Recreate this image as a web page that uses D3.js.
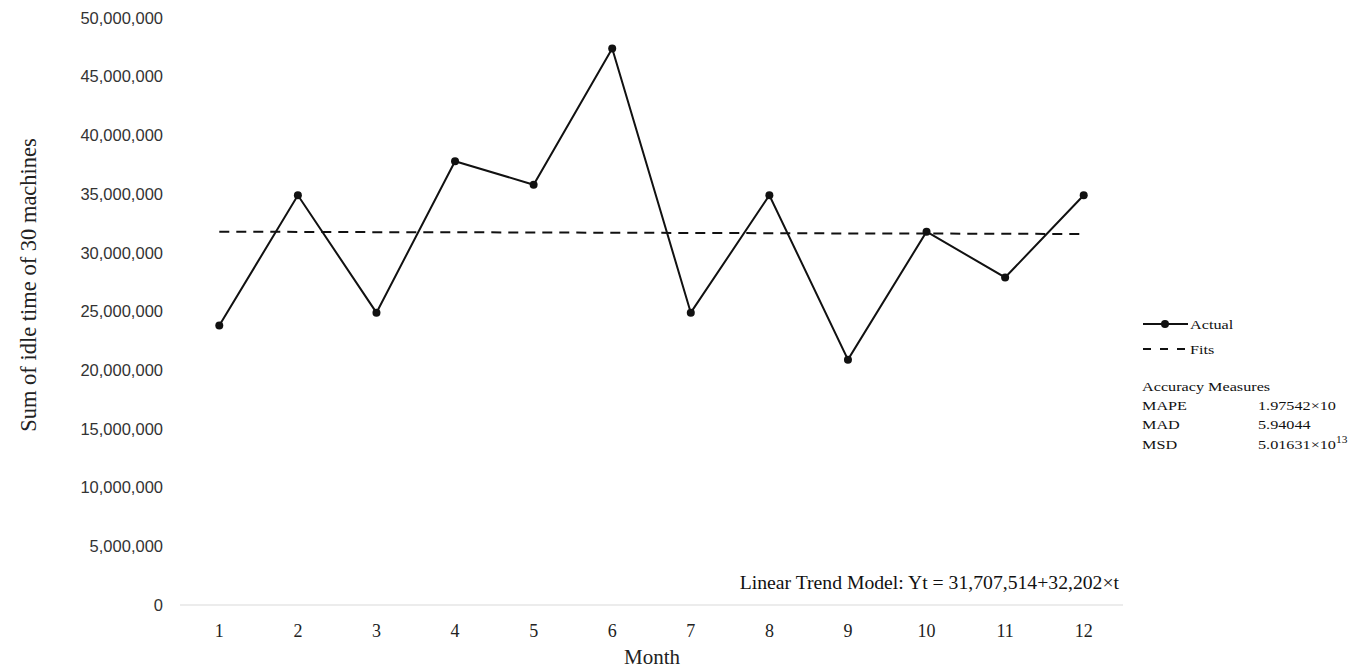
<!DOCTYPE html>
<html>
<head>
<meta charset="utf-8">
<script src="https://cdn.jsdelivr.net/npm/d3@7"></script>
<style>
body { margin: 0; background: #fff; }
svg { font-family: "Liberation Serif", "Times New Roman", serif; display: block; }
</style>
</head>
<body>
<svg class="myChart" width="1363" height="670"></svg>
<script>
const months = [1, 2, 3, 4, 5, 6, 7, 8, 9, 10, 11, 12];
const actual = [23800000, 34900000, 24900000, 37800000, 35800000, 47400000,
                24900000, 34900000, 20900000, 31800000, 27900000, 34900000];
const fits = [31800000, 31780000, 31760000, 31750000, 31730000, 31710000,
              31690000, 31670000, 31650000, 31640000, 31620000, 31600000];
const yTicks = [0, 5000000, 10000000, 15000000, 20000000, 25000000,
                30000000, 35000000, 40000000, 45000000, 50000000];
const accuracyNames = ["MAPE", "MAD", "MSD"];
const accuracyValues = [["1.97542", "×10", ""], ["5.94044", "", ""], ["5.01631", "×10", "13"]];

const svg = d3.select('svg.myChart');
const margin = {left: 180, right: 1123, top: 18, bottom: 605};

const xScale = d3.scaleBand()
  .domain(months)
  .range([margin.left, margin.right]);

const yScale = d3.scaleLinear()
  .domain([0, 50000000])
  .range([margin.bottom, margin.top]);

const xc = d => xScale(d) + xScale.bandwidth() / 2;
const fmt = d3.format(',');

// y tick labels (no axis line)
svg.append('g').selectAll('text').data(yTicks)
  .enter().append('text')
  .attr('x', 163)
  .attr('y', d => yScale(d))
  .attr('dy', '0.35em')
  .attr('text-anchor', 'end')
  .attr('font-family', '"Liberation Sans", Arial, sans-serif')
  .attr('font-size', '16.5px')
  .attr('fill', '#333')
  .text(d => fmt(d));

// x axis line
svg.append('line')
  .attr('x1', margin.left).attr('x2', margin.right)
  .attr('y1', yScale(0)).attr('y2', yScale(0))
  .attr('stroke', '#d9d9d9').attr('stroke-width', 1);

svg.append('g').selectAll('text').data(months)
  .enter().append('text')
  .attr('x', d => xc(d))
  .attr('y', 637)
  .attr('text-anchor', 'middle')
  .attr('font-size', '18px')
  .attr('fill', '#222')
  .text(d => d);

// titles
svg.append('text')
  .attr('transform', 'translate(36,285) rotate(-90)')
  .attr('text-anchor', 'middle')
  .attr('font-size', '22.5px')
  .attr('fill', '#222')
  .text('Sum of idle time of 30 machines');

svg.append('text')
  .attr('x', 652).attr('y', 664)
  .attr('text-anchor', 'middle')
  .attr('font-size', '21px')
  .attr('fill', '#222')
  .text('Month');

// fits line
const line = d3.line().x((d, i) => xc(months[i])).y(d => yScale(d));
svg.append('path')
  .datum(fits)
  .attr('d', line)
  .attr('fill', 'none')
  .attr('stroke', '#111')
  .attr('stroke-width', 2)
  .attr('stroke-dasharray', '10,7');

// actual line and markers
svg.append('path')
  .datum(actual)
  .attr('d', line)
  .attr('fill', 'none')
  .attr('stroke', '#111')
  .attr('stroke-width', 2);

svg.append('g').selectAll('circle').data(actual)
  .enter().append('circle')
  .attr('cx', (d, i) => xc(months[i]))
  .attr('cy', d => yScale(d))
  .attr('r', 4)
  .attr('fill', '#111');

// annotation
svg.append('text')
  .attr('x', 1119).attr('y', 589)
  .attr('text-anchor', 'end')
  .attr('font-size', '19.7px')
  .attr('fill', '#111')
  .text('Linear Trend Model: Yt = 31,707,514+32,202×t');

// legend (text slightly stretched horizontally like the source)
const sx = 1.2;
const lg = svg.append('g').attr('font-size', '13.5px').attr('fill', '#111');
const ltext = (x, y, s) => lg.append('text')
  .attr('transform', `translate(${x},${y}) scale(${sx},1)`).text(s);

lg.append('line').attr('x1', 1143).attr('x2', 1188).attr('y1', 324).attr('y2', 324)
  .attr('stroke', '#111').attr('stroke-width', 2);
lg.append('circle').attr('cx', 1165).attr('cy', 324).attr('r', 4).attr('fill', '#111');
ltext(1190, 329, 'Actual');
lg.append('line').attr('x1', 1143).attr('x2', 1189).attr('y1', 349).attr('y2', 349)
  .attr('stroke', '#111').attr('stroke-width', 2).attr('stroke-dasharray', '8,9');
ltext(1190, 354, 'Fits');

ltext(1142, 391, 'Accuracy Measures');
accuracyNames.forEach((n, i) => {
  const y = 410 + i * 19.3;
  ltext(1142, y, n);
  const t = ltext(1258, y, '');
  t.append('tspan').text(accuracyValues[i][0] + accuracyValues[i][1]);
  if (accuracyValues[i][2]) {
    t.append('tspan').attr('dy', -6).attr('font-size', '9.5px').text(accuracyValues[i][2]);
  }
});
</script>
</body>
</html>
